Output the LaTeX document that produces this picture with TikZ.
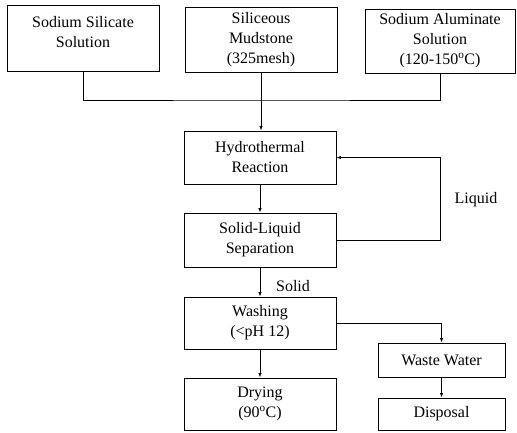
\documentclass[tikz,border=0pt]{standalone}
\usepackage{fontspec}
\setmainfont{Liberation Serif}
\usetikzlibrary{arrows.meta}
\begin{document}
\begin{tikzpicture}[x=1pt,y=-1pt,
  box/.style={draw,line width=1pt,align=center,inner sep=0pt,font=\fontsize{16}{20}\selectfont},
  txt/.style={align=center,inner sep=0pt,font=\fontsize{16}{20}\selectfont},
  conn/.style={line width=1pt},
  arr/.style={line width=1pt,-{Latex[length=4.5pt,width=3.5pt]}}]
\useasboundingbox (0,0) rectangle (517,432);
\node[box,minimum width=152pt,minimum height=66pt] (ss) at (83,38) {};
\node[txt] (sstext) at (83,32) {Sodium Silicate\\Solution};
\node[box,minimum width=152pt,minimum height=65pt] (sm) at (261,39.5) {Siliceous\\Mudstone\\(325mesh)};
\node[box,minimum width=150pt,minimum height=64pt] (sa) at (440,41) {Sodium Aluminate\\Solution\\(120-150\textsuperscript{o}C)};
\node[box,minimum width=152pt,minimum height=53pt] (hr) at (260,157.5) {Hydrothermal\\Reaction};
\node[box,minimum width=152pt,minimum height=54pt] (sl) at (260,240) {Solid-Liquid\\Separation};
\node[box,minimum width=152pt,minimum height=52pt] (wa) at (260,323) {Washing\\(\textless pH 12)};
\node[box,minimum width=152pt,minimum height=52pt] (dr) at (260,404) {Drying\\(90\textsuperscript{o}C)};
\node[box,minimum width=127pt,minimum height=34pt] (ww) at (441.5,360) {Waste Water};
\node[box,minimum width=127pt,minimum height=32pt] (di) at (441.5,414) {Disposal};
\node[txt] (liq) at (476,200) {Liquid};
\node[txt] (sol) at (293,286) {Solid};
\coordinate (j) at (261,100);
\draw[conn] (ss.south) |- (j) -| (sa.south);
\draw[conn] (sm.south) -- (j);
\draw[arr] (j) -- (j |- hr.north);
\draw[arr] (hr.south) -- (sl.north);
\draw[arr] (sl.east) -- ++(104,0) |- (hr.east);
\draw[arr] (sl.south) -- (wa.north);
\draw[arr] (wa.east) -| (ww.north);
\draw[arr] (wa.south) -- (dr.north);
\draw[arr] (ww.south) -- (di.north);
\end{tikzpicture}
\end{document}
